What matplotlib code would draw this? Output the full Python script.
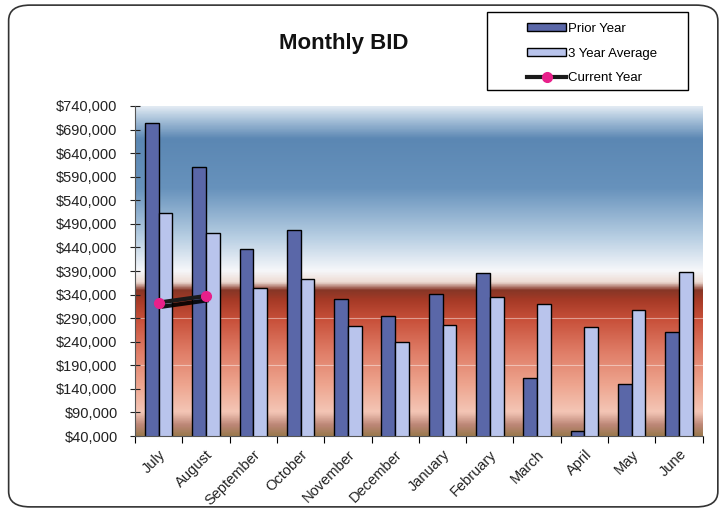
import matplotlib

matplotlib.use("Agg")
import matplotlib.pyplot as plt
import matplotlib.patheffects as pe
import numpy as np
from matplotlib.colors import LinearSegmentedColormap
from matplotlib.lines import Line2D
from matplotlib.patches import FancyBboxPatch, Patch, Rectangle
from matplotlib.ticker import FuncFormatter

plt.rcParams['font.family'] = ['Liberation Sans', 'DejaVu Sans']

months = ['July', 'August', 'September', 'October', 'November', 'December',
          'January', 'February', 'March', 'April', 'May', 'June']
prior_year = [703000, 611000, 436000, 477000, 330000, 294000,
              341000, 386000, 162000, 51000, 150000, 261000]
three_year_avg = [512000, 470000, 353000, 372000, 273000, 239000,
                  275000, 335000, 321000, 272000, 307000, 387000]
current_year = [323000, 337000]
y_ticks = np.arange(40000, 740001, 50000)

fig = plt.figure(figsize=(7.2, 5.12), dpi=100)
ax = fig.add_axes([0.1875, 0.1484, 0.7885, 0.6446])

# background gradient of the plot area (top -> bottom)
stops = [
    (0.00, '#e4ecf4'), (0.04, '#a9c2da'), (0.10, '#5b87b3'),
    (0.25, '#6792bc'), (0.40, '#b8cfe3'), (0.50, '#f6f7fa'),
    (0.535, '#eedcd4'), (0.56, '#863626'), (0.59, '#a63a26'),
    (0.65, '#c8503a'), (0.75, '#e07e68'), (0.85, '#eea690'),
    (0.93, '#f4c6b6'), (0.97, '#bc8676'), (1.00, '#9c7a50'),
]
cmap = LinearSegmentedColormap.from_list('bg', stops)
grad = np.linspace(0, 1, 400).reshape(-1, 1)
ax.imshow(grad, cmap=cmap, aspect='auto', extent=(0, 1, 0, 1),
          transform=ax.transAxes, zorder=0, interpolation='bicubic')

for y in (190000, 290000):
    ax.axhline(y, color='white', lw=0.8, alpha=0.45, zorder=1)

x = np.arange(len(months))
w = 0.29
ax.bar(x - w / 2, prior_year, width=w, color='#5a67a8', edgecolor='black',
       linewidth=1.0, zorder=2)
ax.bar(x + w / 2, three_year_avg, width=w, color='#b9c4ec', edgecolor='black',
       linewidth=1.0, zorder=2)

cx = x[:len(current_year)]
ax.plot(cx, current_year, color='#1a1a1a', lw=3, zorder=4,
        solid_capstyle='butt',
        path_effects=[pe.SimpleLineShadow(offset=(2, -3), shadow_color='black',
                                          alpha=0.9), pe.Normal()])
ax.plot(cx, current_year, ls='none', marker='o', ms=7, mfc='#e8208a',
        mec='#e8208a', zorder=5)

ax.set_xlim(-0.5, len(months) - 0.5)
ax.set_ylim(40000, 740000)
ax.set_yticks(y_ticks)
ax.yaxis.set_major_formatter(FuncFormatter(lambda v, p: f'${v:,.0f}'))
ax.tick_params(axis='y', direction='inout', length=7, labelsize=10.5,
               colors='#222222', pad=9)

ax.set_xticks(np.arange(-0.5, len(months), 1.0))
ax.set_xticklabels([])
ax.set_xticks(x, minor=True)
ax.set_xticklabels(months, minor=True, rotation=45, ha='right',
                   rotation_mode='anchor', fontsize=10.5, color='#222222')
ax.tick_params(axis='x', which='major', direction='out', length=5)
ax.tick_params(axis='x', which='minor', length=0, pad=8)

for s in ('top', 'right'):
    ax.spines[s].set_visible(False)
ax.spines['left'].set_color('#555555')
ax.spines['bottom'].set_color('#555555')

fig.text(0.477, 0.915, 'Monthly BID', ha='center', va='center',
         fontsize=16, fontweight='bold', color='#111111')

# legend box
fig.patches.append(Rectangle((0.676, 0.824), 0.280, 0.153,
                             transform=fig.transFigure, fill=True,
                             facecolor='white', edgecolor='black', lw=1.0))
handles = [
    Patch(facecolor='#5a67a8', edgecolor='black', label='Prior Year'),
    Patch(facecolor='#b9c4ec', edgecolor='black', label='3 Year Average'),
    Line2D([0], [0], color='#1a1a1a', lw=3, marker='o', ms=7,
           mfc='#e8208a', mec='#e8208a', label='Current Year'),
]
fig.legend(handles=handles, loc='upper left', bbox_to_anchor=(0.716, 0.979),
           frameon=False, fontsize=9.5, handlelength=2.9, handleheight=0.5,
           handletextpad=0.15, labelspacing=0.98)

# outer chart border
fig.patches.append(FancyBboxPatch((0.012, 0.01), 0.985, 0.98,
                                  boxstyle='round,pad=0,rounding_size=0.03',
                                  transform=fig.transFigure, fill=False,
                                  edgecolor='#333333', lw=1.2))

fig.savefig('out.png', dpi=100, facecolor='white')
